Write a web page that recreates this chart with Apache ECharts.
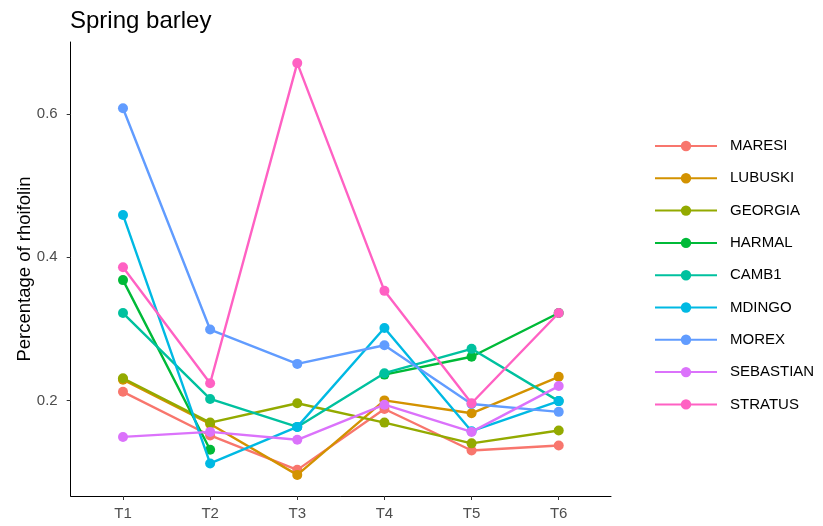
<!DOCTYPE html>
<html>
<head>
<meta charset="utf-8">
<script src="https://cdn.jsdelivr.net/npm/echarts@6/dist/echarts.min.js"></script>
<style>html,body{margin:0;padding:0;background:#fff;}#c{width:823px;height:526px;}</style>
</head>
<body>
<div id="c"></div>
<script>
const categories = ['T1','T2','T3','T4','T5','T6'];
const seriesNames = ['MARESI','LUBUSKI','GEORGIA','HARMAL','CAMB1','MDINGO','MOREX','SEBASTIAN','STRATUS'];
const MARESI    = [0.212, 0.151, 0.103, 0.188, 0.130, 0.137];
const LUBUSKI   = [0.229, 0.167, 0.096, 0.200, 0.182, 0.233];
const GEORGIA   = [0.231, 0.169, 0.196, 0.169, 0.140, 0.158];
const HARMAL    = [0.368, 0.131, null,  0.236, 0.261, 0.322];
const CAMB1     = [0.322, 0.202, 0.163, 0.238, 0.272, 0.199];
const MDINGO    = [0.459, 0.112, 0.163, 0.301, 0.157, 0.199];
const MOREX     = [0.608, 0.299, 0.251, 0.277, 0.195, 0.184];
const SEBASTIAN = [0.149, 0.156, 0.145, 0.194, 0.156, 0.220];
const STRATUS   = [0.386, 0.224, 0.671, 0.353, 0.196, 0.322];
const yTicks = [0.2, 0.4, 0.6];

const values = [MARESI, LUBUSKI, GEORGIA, HARMAL, CAMB1, MDINGO, MOREX, SEBASTIAN, STRATUS];
const colors = ['#F8766D','#D39200','#93AA00','#00BA38','#00C19F','#00B9E3','#619CFF','#DB72FB','#FF61C3'];
const xPos = categories.map((c, i) => i + 1);

const chart = echarts.init(document.getElementById('c'), null, {renderer: 'canvas'});
const series = seriesNames.map((name, k) => ({
  name: name,
  type: 'line',
  data: values[k].map((v, i) => [xPos[i], v]),
  connectNulls: false,
  symbol: 'circle',
  symbolSize: 10,
  showSymbol: true,
  lineStyle: {width: 2.4, color: colors[k]},
  itemStyle: {color: colors[k]},
  emphasis: {disabled: true},
  z: 2 + k
}));

chart.setOption({
  animation: false,
  backgroundColor: '#ffffff',
  color: colors,
  title: {
    text: 'Spring barley',
    left: 65,
    top: 4,
    textStyle: {fontFamily: 'Liberation Sans', fontSize: 24, fontWeight: 'normal', color: '#000'}
  },
  grid: {left: 70.7, right: 212, top: 42, bottom: 30, containLabel: false},
  legend: {
    orient: 'vertical',
    left: 649,
    top: 132,
    itemWidth: 62,
    itemHeight: 13,
    itemGap: 14.3,
    data: seriesNames,
    textStyle: {fontFamily: 'Liberation Sans', fontSize: 15, color: '#000', lineHeight: 18, padding: [0, 0, 0, 8]}
  },
  xAxis: {
    type: 'value',
    min: 0.4,
    max: 6.6,
    splitLine: {show: false},
    axisLine: {show: true, lineStyle: {color: '#000', width: 1}},
    axisTick: {show: true, length: 4, lineStyle: {color: '#333'}, customValues: xPos},
    axisLabel: {
      customValues: xPos,
      margin: 10,
      fontFamily: 'Liberation Sans', fontSize: 15, color: '#4D4D4D',
      formatter: v => categories[Math.round(v) - 1]
    }
  },
  yAxis: {
    type: 'value',
    min: 0.0665,
    max: 0.7005,
    name: 'Percentage of rhoifolin',
    nameLocation: 'middle',
    nameGap: 36,
    nameMoveOverlap: false,
    nameTextStyle: {fontFamily: 'Liberation Sans', fontSize: 18.5, color: '#000'},
    splitLine: {show: false},
    axisLine: {show: true, lineStyle: {color: '#000', width: 1}},
    axisTick: {show: true, length: 4, lineStyle: {color: '#333'}, customValues: yTicks},
    axisLabel: {
      customValues: yTicks,
      margin: 13,
      fontFamily: 'Liberation Sans', fontSize: 15, color: '#4D4D4D',
      formatter: v => v.toFixed(1)
    }
  },
  series: series
});
</script>
</body>
</html>
